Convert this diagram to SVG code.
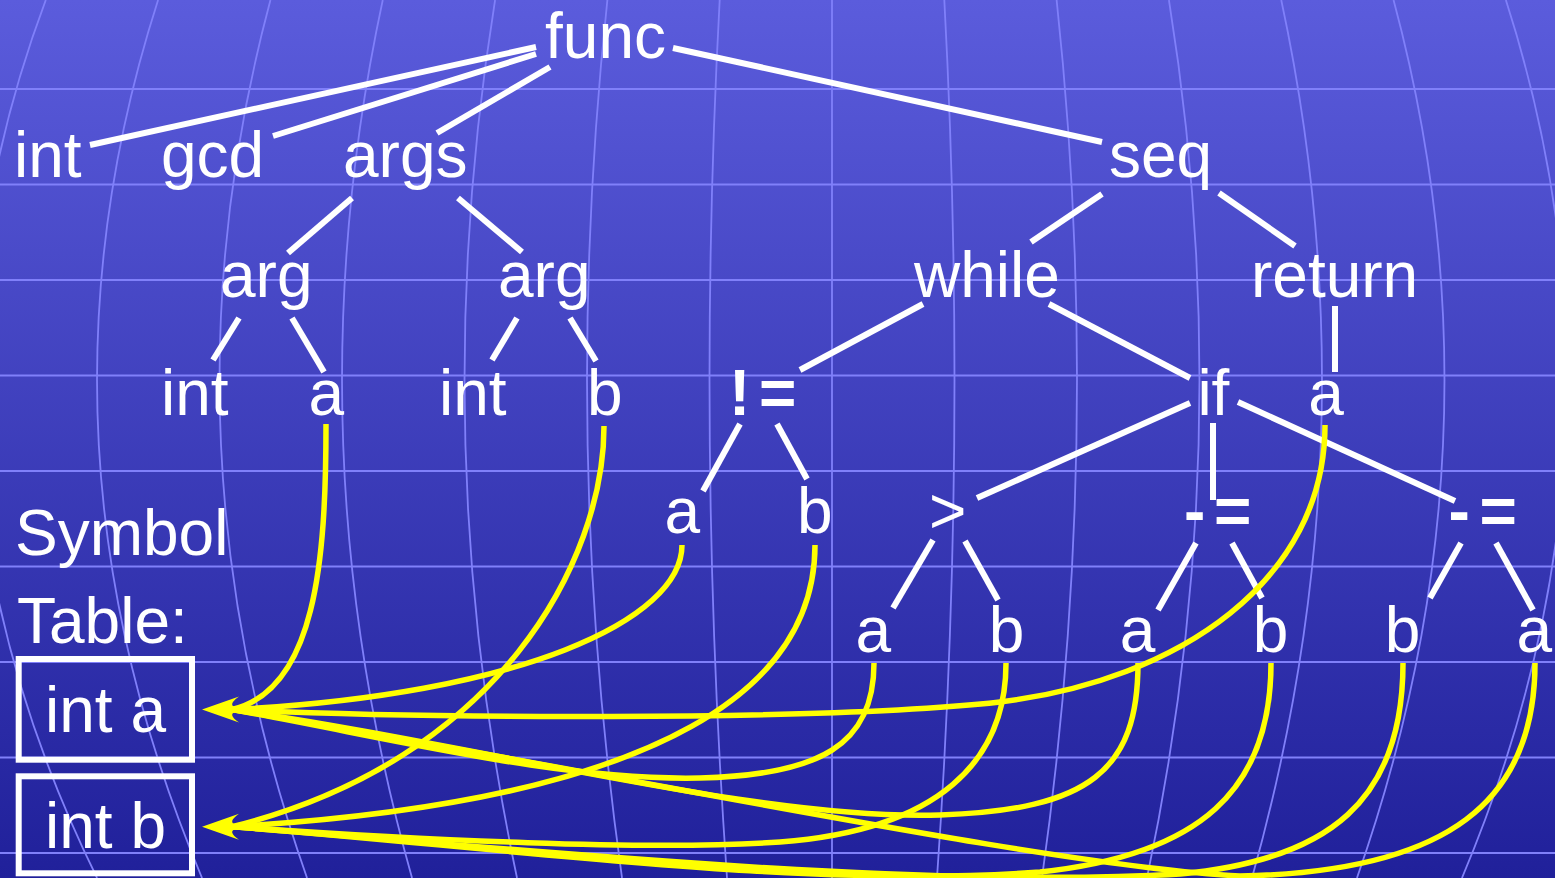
<svg xmlns="http://www.w3.org/2000/svg" width="1555" height="878" viewBox="0 0 1555 878">
<defs>
<linearGradient id="bg" x1="0" y1="0" x2="0" y2="1">
<stop offset="0" stop-color="#5b5cdc"/>
<stop offset="1" stop-color="#20209a"/>
</linearGradient>
<path id="ah" d="M202,709.5 L239,696.5 Q227,705 236,707.5 L236,711.5 Q227,714 239,722.5 Z"/>
</defs>
<style>
.grid{stroke:#8080fa;stroke-width:1.8;fill:none}
.t{font-family:"Liberation Sans",Arial,sans-serif;font-size:64px;fill:#fff}
.op{font-weight:bold}
.w{stroke:#fff;stroke-width:6;fill:none}
.y{stroke:#ffff00;stroke-width:5.5;fill:none}
.box{stroke:#fff;stroke-width:6;fill:none}
</style>
<rect x="0" y="0" width="1555" height="878" fill="url(#bg)"/>
<g id="grid" class="grid">
<path d="M0,89H1555M0,184.5H1555M0,280H1555M0,375.5H1555M0,471H1555M0,566.5H1555M0,662H1555M0,757.5H1555M0,853H1555"/>
<path d="M45.8,0Q-118.95,439 97.07,878M158.1,0Q16.9,439 202.06,878M270.45,0Q152.75,439 307.05,878M382.76,0Q288.6,439 412.04,878M495.07,0Q424.45,439 517.03,878M607.38,0Q560.3,439 622.02,878M719.69,0Q696.15,439 727.01,878M832,0L832,878M944.31,0Q967.85,439 936.99,878M1056.62,0Q1103.7,439 1041.98,878M1168.93,0Q1239.55,439 1146.97,878M1281.24,0Q1375.4,439 1251.96,878M1393.55,0Q1511.25,439 1356.95,878M1505.86,0Q1647.1,439 1461.94,878"/>
</g>
<g id="connectors">
<g class="w">
<line x1="90" y1="145" x2="536" y2="47"/>
<line x1="273" y1="136" x2="536" y2="54"/>
<line x1="437" y1="133" x2="550" y2="67"/>
<line x1="673" y1="48" x2="1102" y2="142"/>
<line x1="352" y1="198" x2="288" y2="253"/>
<line x1="458" y1="198" x2="522" y2="252"/>
<line x1="239" y1="318" x2="213" y2="360"/>
<line x1="292" y1="318" x2="324" y2="372"/>
<line x1="517" y1="318" x2="492" y2="360"/>
<line x1="570" y1="318" x2="596" y2="361"/>
<line x1="1102" y1="194" x2="1031" y2="242"/>
<line x1="1219" y1="193" x2="1295" y2="246"/>
<line x1="923" y1="304" x2="800" y2="370"/>
<line x1="1049" y1="304" x2="1190" y2="378"/>
<line x1="1335" y1="306" x2="1335" y2="372"/>
<line x1="740" y1="424" x2="703" y2="491"/>
<line x1="777" y1="424" x2="807" y2="479"/>
<line x1="1190" y1="403" x2="977" y2="498"/>
<line x1="1213" y1="423" x2="1213" y2="500"/>
<line x1="1238" y1="402" x2="1455" y2="501"/>
<line x1="933" y1="540" x2="893" y2="608"/>
<line x1="965" y1="541" x2="998" y2="600"/>
<line x1="1196" y1="543" x2="1158" y2="610"/>
<line x1="1232" y1="543" x2="1262" y2="598"/>
<line x1="1461" y1="543" x2="1430" y2="598"/>
<line x1="1496" y1="543" x2="1533" y2="610"/>
</g>
<g class="y">
<path d="M326,424 C326,560 316,690 232,709.5"/>
<path d="M604,426 C604,560 500,760 232,826.7"/>
<path d="M682,545 C682,620 520,695 232,709.5"/>
<path d="M815,545 C815,680 680,800 232,826.7"/>
<path d="M1325,425 C1325,580 1180,680 1000,702 C820,722 400,718 232,709.5"/>
<path d="M874,663 C874,745 820,775 700,778 C560,781 400,740 232,709.5"/>
<path d="M1138,663 C1138,770 1090,810 940,815 C760,821 480,745 232,709.5"/>
<path d="M1535,663 C1535,800 1450,872 1240,876 C1050,866 650,780 232,709.5"/>
<path d="M1006,663 C1006,760 940,830 780,842 C650,851 420,840 232,826.7"/>
<path d="M1271,663 C1271,790 1200,855 1040,872 C800,890 480,845 232,826.7"/>
<path d="M1403,663 C1403,800 1330,860 1180,874 C900,890 480,845 232,826.7"/>
</g>
<g fill="#ffff00">
<use href="#ah"/>
<use href="#ah" transform="translate(0,117.2)"/>
</g>
</g>
<g id="n-func"><text class="t" x="545" y="58">func</text></g>
<g id="n-int0"><text class="t" x="14" y="177">int</text></g>
<g id="n-gcd"><text class="t" x="161" y="177">gcd</text></g>
<g id="n-args"><text class="t" x="343" y="177">args</text></g>
<g id="n-seq"><text class="t" x="1109" y="177">seq</text></g>
<g id="n-arg1"><text class="t" x="220" y="297">arg</text></g>
<g id="n-arg2"><text class="t" x="498" y="297">arg</text></g>
<g id="n-while"><text class="t" x="914" y="297">while</text></g>
<g id="n-return"><text class="t" x="1251" y="297">return</text></g>
<g id="n-int1"><text class="t" x="161" y="415">int</text></g>
<g id="n-a1"><text class="t" x="308.5" y="415">a</text></g>
<g id="n-int2"><text class="t" x="439" y="415">int</text></g>
<g id="n-b1"><text class="t" x="587" y="415">b</text></g>
<g id="n-ne"><text class="t op" x="729 759" y="415">!=</text></g>
<g id="n-if"><text class="t" x="1197.4" y="415">if</text></g>
<g id="n-a2"><text class="t" x="1308.3" y="415">a</text></g>
<g id="n-a3"><text class="t" x="664.6" y="533">a</text></g>
<g id="n-b3"><text class="t" x="797" y="533">b</text></g>
<g id="n-gt"><text class="t" x="929" y="533">&gt;</text></g>
<g id="n-me1"><text class="t op" x="1184 1214" y="533">-=</text></g>
<g id="n-me2"><text class="t op" x="1448.5 1479.5" y="533">-=</text></g>
<g id="n-a4"><text class="t" x="855.6" y="652">a</text></g>
<g id="n-b4"><text class="t" x="988.7" y="652">b</text></g>
<g id="n-a5"><text class="t" x="1119.7" y="652">a</text></g>
<g id="n-b5"><text class="t" x="1252.7" y="652">b</text></g>
<g id="n-b6"><text class="t" x="1384.7" y="652">b</text></g>
<g id="n-a6"><text class="t" x="1516.6" y="652">a</text></g>
<g id="label"><text class="t" x="15" y="555">Symbol</text><text class="t" x="17" y="643">Table:</text></g>
<g id="sym-a"><rect class="box" x="18.7" y="659" width="173.3" height="100.7"/><text class="t" x="45" y="732">int a</text></g>
<g id="sym-b"><rect class="box" x="18.7" y="776.3" width="173.3" height="97"/><text class="t" x="45" y="848">int b</text></g>
</svg>
